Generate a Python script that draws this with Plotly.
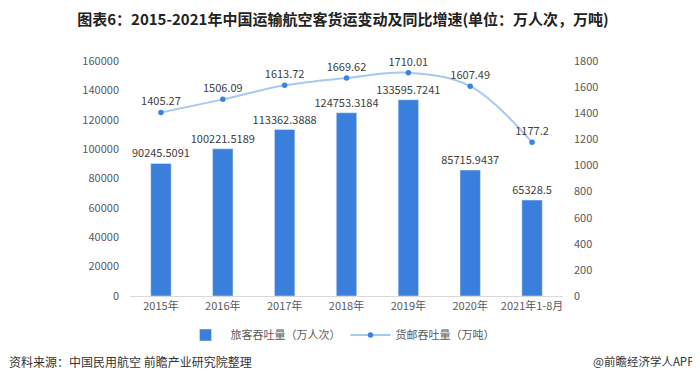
import plotly.graph_objects as go

categories = ["2015年", "2016年", "2017年", "2018年", "2019年", "2020年", "2021年1-8月"]
passenger = [90245.5091, 100221.5189, 113362.3888, 124753.3184, 133595.7241, 85715.9437, 65328.5]
cargo = [1405.27, 1506.09, 1613.72, 1669.62, 1710.01, 1607.49, 1177.2]
passenger_labels = ["90245.5091", "100221.5189", "113362.3888", "124753.3184", "133595.7241", "85715.9437", "65328.5"]
cargo_labels = ["1405.27", "1506.09", "1613.72", "1669.62", "1710.01", "1607.49", "1177.2"]

font_family = "Noto Sans CJK SC, Noto Sans, sans-serif"

# page renders with an 8px body offset; size the figure to fit the window
W, H = 692, 373
L, T, R, B = 122, 53, 137, 85
PW, PH = W - L - R, H - T - B

fig = go.Figure()
fig.add_trace(go.Bar(
    x=categories, y=passenger, name="旅客吞吐量（万人次）",
    marker=dict(color="#3a7fdc"), width=0.33,
    text=passenger_labels, textposition="outside", cliponaxis=False,
    constraintext="none",
    textfont=dict(size=11, color="#404040"),
))
fig.add_trace(go.Scatter(
    x=categories, y=cargo, name="货邮吞吐量（万吨）", yaxis="y2",
    mode="lines+markers+text",
    line=dict(color="#a8c8f4", width=2, shape="spline", smoothing=1.0),
    marker=dict(color="#3a84e0", size=5.5),
    text=cargo_labels, textposition="top center", cliponaxis=False,
    textfont=dict(size=11, color="#404040"),
))

fig.update_layout(
    width=W, height=H,
    margin=dict(l=L, r=R, t=T, b=B, autoexpand=False),
    paper_bgcolor="white", plot_bgcolor="white",
    font=dict(family=font_family, size=11, color="#595959"),
    title=dict(text="<b>图表6：2015-2021年中国运输航空客货运变动及同比增速(单位：万人次，万吨)</b>",
               x=(343 - 8) / W, xanchor="center", y=1 - (20 - 8) / H, yanchor="middle",
               font=dict(size=15, color="#222222")),
    xaxis=dict(showline=True, linecolor="#d9d9d9", linewidth=1, ticks="", showgrid=False,
               automargin=False, tickfont=dict(size=11, color="#595959")),
    yaxis=dict(range=[0, 160000], dtick=20000, tickformat="d", showgrid=False, zeroline=False,
               automargin=False, tickfont=dict(size=11, color="#595959"), ticklabelstandoff=10),
    yaxis2=dict(range=[0, 1800], dtick=200, tickformat="d", overlaying="y", side="right", showgrid=False,
                automargin=False, zeroline=False, tickfont=dict(size=11, color="#595959"),
                ticklabelstandoff=10),
    legend=dict(orientation="h", x=(340 - 8 - L) / PW, xanchor="center",
                y=-(335 - 8 - (T + PH)) / PH, yanchor="middle",
                font=dict(size=11, color="#595959"), traceorder="normal", itemwidth=40),
    bargap=0.67,
    showlegend=True,
)

src_y = -(361 - 8 - (T + PH)) / PH
fig.add_annotation(text="资料来源：中国民用航空 前瞻产业研究院整理", xref="paper", yref="paper",
                   x=(7 - 8 - L) / PW, xanchor="left", y=src_y, yanchor="middle", showarrow=False,
                   font=dict(size=12, color="#333333"))
fig.add_annotation(text="@前瞻经济学人APP", xref="paper", yref="paper",
                   x=(696 - 8 - L) / PW, xanchor="right", y=src_y, yanchor="middle", showarrow=False,
                   font=dict(size=11.5, color="#333333"))

fig.write_html("out.html")
